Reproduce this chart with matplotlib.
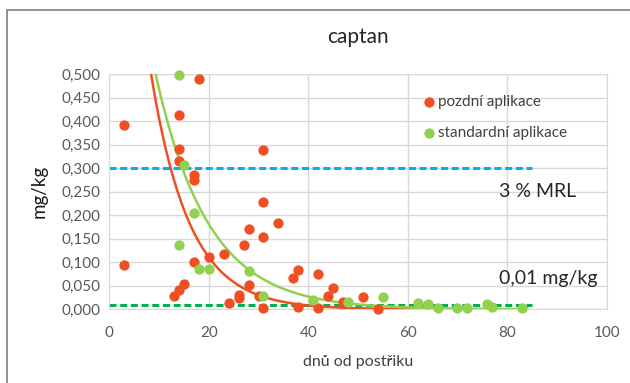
import numpy as np
import matplotlib
matplotlib.use('Agg')
import matplotlib.pyplot as plt
from matplotlib.patches import Rectangle
from matplotlib.ticker import FuncFormatter

plt.rcParams['font.family'] = ['Lato', 'DejaVu Sans']

# late application ("pozdní aplikace")
late_days = [3, 3, 13, 14, 14, 14, 14, 15, 17, 17, 17, 18, 20, 23, 24, 26, 26, 27,
             28, 28, 30, 31, 31, 31, 31, 34, 37, 38, 38, 42, 42, 44, 45, 47, 51, 54]
late_vals = [0.391, 0.094, 0.029, 0.040, 0.316, 0.340, 0.412, 0.054, 0.100, 0.274,
             0.285, 0.489, 0.112, 0.117, 0.013, 0.023, 0.030, 0.137, 0.052, 0.170,
             0.029, 0.002, 0.154, 0.228, 0.338, 0.184, 0.066, 0.083, 0.005, 0.076,
             0.002, 0.029, 0.046, 0.015, 0.026, 0.000]

# standard application ("standardní aplikace")
std_days = [14, 14, 15, 17, 18, 20, 28, 31, 41, 48, 55, 62, 64, 66, 70, 72, 76, 77, 83]
std_vals = [0.497, 0.137, 0.306, 0.205, 0.085, 0.085, 0.081, 0.029, 0.019, 0.015,
            0.027, 0.014, 0.011, 0.003, 0.002, 0.002, 0.011, 0.005, 0.003]

# exponential trendlines: y = a * exp(-b * x)
late_trend = (1.49, 0.130)
std_trend = (1.21, 0.095)
trend_range = (0, 84)

# reference levels
mrl_level = 0.300
lod_level = 0.010
ref_range = [0, 85]

red = '#F04E23'
green = '#92D050'

fig = plt.figure(figsize=(6.3, 3.83), dpi=100)
ax = fig.add_axes([0.1735, 0.1924, 0.7895, 0.6144])

# outer chart border (cropped)
fig.patches.append(Rectangle((7 / 630, -0.5), 2, 1.5 - 10 / 383, transform=fig.transFigure,
                             fill=False, edgecolor='#7F7F7F', linewidth=1.2))

ax.plot(ref_range, [mrl_level] * 2, color='#00B0F0', lw=2.2, dashes=(2.3, 1.2), zorder=2)
ax.plot(ref_range, [lod_level] * 2, color='#00B050', lw=2.2, dashes=(2.3, 1.2), zorder=2)

xs = np.linspace(trend_range[0], trend_range[1], 400)
ax.plot(xs, late_trend[0] * np.exp(-late_trend[1] * xs), color=red, lw=1.8, zorder=3)
ax.plot(xs, std_trend[0] * np.exp(-std_trend[1] * xs), color=green, lw=1.8, zorder=3)

ax.scatter(late_days, late_vals, s=55, color=red, zorder=4, clip_on=False,
           linewidths=0, label='pozdní aplikace')
ax.scatter(std_days, std_vals, s=55, color=green, zorder=4, clip_on=False,
           linewidths=0, label='standardní aplikace')

ax.set_xlim(0, 100)
ax.set_ylim(0, 0.5)
ax.set_xticks(range(0, 101, 20))
ax.set_yticks(np.arange(0, 0.501, 0.05))
ax.yaxis.set_major_formatter(FuncFormatter(lambda v, p: f'{v:.3f}'.replace('.', ',')))
ax.tick_params(length=0, labelsize=11, labelcolor='#595959')
ax.tick_params(axis='x', pad=12)
ax.tick_params(axis='y', pad=6)
ax.grid(True, color='#D9D9D9', lw=1)
ax.set_axisbelow(True)
for s in ax.spines.values():
    s.set_color('#D9D9D9')

ax.set_title('captan', fontsize=15, color='#262626', pad=22)
ax.set_xlabel('dnů od postřiku', fontsize=11.5, color='#404040', labelpad=11)
ax.set_ylabel('mg/kg', fontsize=13.5, color='#1A1A1A', labelpad=10)

ax.text(78.4, 0.25, '3 % MRL', fontsize=14, color='#262626', va='center')
ax.text(78.4, 0.066, '0,01 mg/kg', fontsize=14, color='#262626', va='center')

ax.legend(loc='upper left', bbox_to_anchor=(0.60, 0.97), frameon=False, fontsize=11,
          handletextpad=0.1, handlelength=1.0, labelspacing=1.1, labelcolor='#404040',
          scatterpoints=1)

fig.savefig('out.png', dpi=100)
